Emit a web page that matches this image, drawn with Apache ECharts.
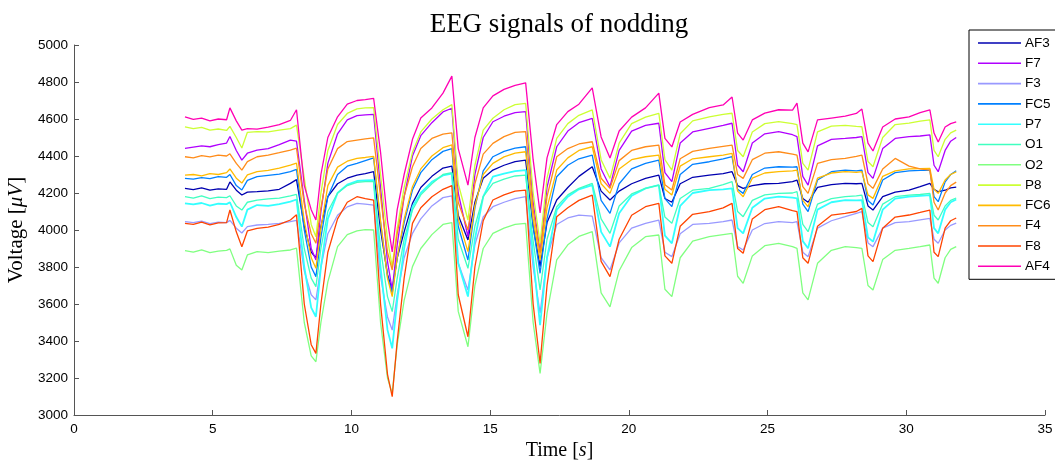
<!DOCTYPE html>
<html>
<head>
<meta charset="utf-8">
<script src="https://cdn.jsdelivr.net/npm/echarts@6/dist/echarts.min.js"></script>
<style>
html,body{margin:0;padding:0;background:#fff;}
#c{width:1055px;height:462px;}
</style>
</head>
<body>
<div id="c"></div>
<script>
// time stamps (s) shared by all channels
const time = [4.0,4.3,4.6,4.9,5.2,5.5,5.62,5.85,6.05,6.25,6.6,7.0,7.4,7.8,8.02,8.3,8.55,8.72,8.9,9.15,9.5,9.85,10.2,10.5,10.8,11.05,11.3,11.47,11.65,11.9,12.2,12.5,12.9,13.3,13.62,13.85,14.2,14.45,14.75,15.1,15.5,15.9,16.28,16.55,16.8,17.05,17.4,17.8,18.2,18.68,19.0,19.32,19.65,20.1,20.6,21.08,21.3,21.55,21.85,22.3,22.9,23.4,23.72,23.92,24.12,24.45,24.9,25.4,25.9,26.06,26.27,26.46,26.8,27.3,27.8,28.2,28.4,28.62,28.8,29.15,29.6,30.1,30.5,30.85,31.0,31.15,31.4,31.6,31.8];

const AF3 = [4225,4218,4228,4215,4222,4220,4260,4215,4189,4205,4207,4212,4220,4252,4272,4020,3880,3849,4020,4180,4250,4280,4297,4305,4315,4000,3760,3676,3850,3990,4144,4230,4290,4335,4345,4080,3946,4150,4280,4324,4350,4370,4378,4020,3802,4040,4162,4230,4290,4342,4210,4162,4210,4250,4279,4297,4170,4150,4250,4285,4297,4305,4315,4240,4225,4240,4250,4252,4262,4270,4170,4150,4230,4245,4252,4250,4252,4130,4108,4180,4205,4216,4235,4252,4220,4207,4215,4228,4232];
const F7 = [4441,4448,4455,4450,4462,4470,4505,4430,4378,4415,4432,4440,4462,4486,4480,4160,3900,3838,4100,4360,4520,4595,4618,4622,4625,4230,3830,3676,3920,4180,4400,4510,4580,4638,4658,4200,3964,4300,4500,4585,4615,4635,4640,4150,3880,4230,4450,4535,4580,4604,4330,4234,4430,4535,4565,4577,4310,4261,4470,4530,4549,4565,4577,4350,4315,4470,4520,4532,4515,4505,4290,4243,4455,4490,4495,4500,4505,4310,4279,4440,4495,4505,4508,4514,4350,4315,4430,4480,4500];
const F3 = [4045,4040,4048,4035,4042,4040,4052,4010,3984,4018,4027,4030,4036,4045,4052,3780,3650,3622,3800,3980,4080,4125,4144,4140,4135,3750,3530,3459,3650,3850,3982,4060,4130,4175,4185,3820,3676,3920,4070,4126,4150,4170,4180,3800,3550,3850,4030,4065,4080,4075,3850,3784,3930,4010,4036,4054,3880,3856,3980,4030,4036,4045,4054,3910,3892,4000,4035,4045,4040,4045,3880,3856,4010,4050,4072,4090,4099,3930,3910,4010,4040,4045,4055,4063,3950,3928,4000,4025,4037];
const FC5 = [4279,4275,4283,4278,4288,4285,4300,4240,4216,4268,4288,4295,4302,4315,4328,4000,3800,3748,3960,4180,4300,4345,4360,4375,4390,4040,3750,3658,3850,4040,4216,4310,4380,4425,4440,4020,3838,4120,4320,4396,4425,4442,4450,4020,3766,4060,4288,4350,4385,4405,4160,4090,4250,4330,4360,4378,4170,4126,4300,4355,4369,4385,4396,4220,4198,4300,4335,4342,4340,4342,4140,4099,4270,4315,4324,4320,4324,4160,4135,4270,4310,4320,4322,4324,4180,4153,4260,4300,4320];
const P7 = [4144,4138,4146,4132,4142,4140,4150,4070,4018,4110,4135,4130,4140,4153,4165,3800,3580,3531,3800,4060,4200,4245,4265,4268,4270,3800,3460,3360,3620,3900,4126,4200,4260,4295,4305,3820,3640,3950,4180,4288,4305,4318,4324,3850,3486,3850,4108,4180,4220,4243,3990,3910,4090,4185,4225,4243,3970,3928,4130,4200,4216,4220,4225,4010,3982,4120,4170,4180,4175,4171,3940,3901,4110,4150,4162,4160,4162,3960,3937,4110,4170,4180,4185,4189,4010,3982,4110,4150,4165];
const O1 = [4180,4172,4185,4170,4178,4175,4185,4130,4108,4150,4162,4168,4172,4184,4192,3900,3740,3694,3900,4100,4200,4240,4258,4262,4261,3900,3640,3559,3740,3950,4108,4190,4250,4300,4310,3950,3793,4020,4180,4252,4275,4292,4297,3940,3676,3950,4126,4190,4225,4252,4060,3982,4130,4195,4225,4243,4070,4036,4170,4215,4225,4245,4261,4100,4072,4160,4190,4198,4200,4207,4030,3991,4140,4170,4180,4185,4189,4040,4018,4140,4180,4189,4192,4198,4080,4054,4130,4160,4173];
const O2 = [3888,3880,3892,3878,3886,3890,3898,3810,3784,3865,3883,3878,3886,3892,3902,3500,3320,3288,3500,3720,3910,3975,3995,4002,4000,3500,3200,3117,3380,3620,3802,3900,3975,4030,4040,3560,3369,3700,3900,3982,4010,4030,4036,3500,3225,3550,3838,3920,3965,3991,3660,3585,3780,3905,3964,3973,3680,3640,3850,3940,3964,3975,3982,3750,3712,3860,3915,3928,3910,3901,3660,3622,3820,3890,3910,3905,3901,3700,3676,3840,3890,3901,3910,3919,3740,3712,3850,3895,3910];
const P8 = [4558,4548,4555,4540,4546,4538,4560,4500,4443,4528,4532,4530,4540,4548,4567,4280,4030,3964,4200,4430,4570,4630,4655,4660,4662,4300,3950,3802,4010,4230,4420,4530,4600,4650,4678,4250,4054,4350,4540,4604,4650,4678,4685,4200,3928,4280,4495,4575,4620,4649,4380,4279,4470,4575,4610,4631,4380,4324,4520,4590,4612,4625,4631,4430,4396,4530,4575,4586,4575,4570,4360,4324,4530,4562,4565,4560,4558,4370,4342,4500,4570,4578,4588,4595,4430,4396,4490,4525,4540];
const FC6 = [4297,4300,4292,4305,4300,4310,4330,4280,4254,4298,4315,4322,4335,4351,4362,4050,3850,3793,4010,4240,4340,4372,4387,4392,4398,4050,3740,3640,3850,4060,4234,4330,4400,4445,4460,4060,3883,4130,4300,4360,4395,4415,4423,4060,3838,4120,4324,4390,4430,4450,4250,4198,4330,4380,4396,4405,4220,4189,4345,4385,4396,4405,4414,4210,4180,4280,4308,4315,4320,4324,4160,4126,4280,4308,4315,4312,4315,4190,4171,4290,4320,4330,4332,4333,4220,4198,4270,4300,4314];
const F4 = [4396,4390,4402,4395,4405,4400,4412,4360,4324,4370,4396,4405,4418,4432,4442,4140,3980,3928,4120,4330,4440,4478,4486,4492,4498,4180,3880,3784,3980,4180,4342,4440,4495,4518,4525,4150,4000,4250,4410,4468,4505,4528,4532,4110,3874,4180,4396,4440,4465,4477,4280,4225,4375,4430,4450,4459,4245,4216,4385,4425,4441,4452,4459,4300,4279,4380,4415,4423,4410,4405,4235,4198,4360,4380,4387,4398,4405,4250,4225,4330,4387,4345,4330,4324,4150,4108,4200,4240,4259];
const F8 = [4036,4030,4042,4028,4038,4040,4108,3990,3909,3995,4009,4015,4030,4054,4082,3600,3380,3333,3600,3880,4060,4150,4180,4170,4162,3600,3220,3099,3400,3740,4036,4120,4180,4220,4240,3650,3423,3800,4050,4162,4190,4210,4216,3600,3279,3700,4072,4120,4160,4189,3830,3748,3950,4080,4126,4144,3860,3820,4020,4085,4099,4120,4144,3900,3874,4060,4110,4126,4105,4099,3850,3820,4020,4080,4090,4100,4117,3860,3829,4010,4070,4081,4095,4108,3880,3856,4010,4050,4065];
const AF4 = [4612,4598,4605,4590,4600,4596,4660,4590,4540,4548,4545,4556,4570,4592,4650,4240,4110,4054,4300,4500,4612,4680,4700,4705,4712,4420,4050,3882,4110,4300,4490,4605,4660,4740,4832,4440,4243,4500,4660,4725,4760,4782,4795,4380,4092,4390,4570,4640,4680,4768,4503,4389,4535,4610,4660,4740,4495,4449,4584,4625,4662,4676,4719,4524,4486,4595,4632,4650,4648,4686,4470,4422,4595,4605,4615,4630,4654,4470,4427,4557,4600,4612,4634,4649,4524,4476,4557,4575,4584];

const channelNames = ['AF3','F7','F3','FC5','P7','O1','O2','P8','FC6','F4','F8','AF4'];
const channelValues = [AF3,F7,F3,FC5,P7,O1,O2,P8,FC6,F4,F8,AF4];
const channelColors = ['#0000b0','#b000ff','#9999ff','#0080ff','#33ffff','#40ffc0','#80ff80','#ccff33','#ffbb00','#ff8c1a','#ff4400','#ff00b4'];
const xTicks = [0,5,10,15,20,25,30,35];
const yTicks = [3000,3200,3400,3600,3800,4000,4200,4400,4600,4800,5000];

const chart = echarts.init(document.getElementById('c'), null, {renderer:'canvas'});
const series = channelNames.map((n,i)=>({
  name:n, type:'line', symbol:'none', showSymbol:false, smooth:false, animation:false,
  data: time.map((t,k)=>[t, channelValues[i][k]]),
  lineStyle:{color:channelColors[i], width: n==='P7'?1.8:1.3},
  itemStyle:{color:channelColors[i]},
  z: 2+i
}));
const serif = '"Liberation Serif", "Times New Roman", serif';
const sans = '"Liberation Sans", Arial, sans-serif';
chart.setOption({
  animation:false,
  backgroundColor:'#fff',
  grid:{left:74, right:10, top:45, bottom:47, containLabel:false, outerBoundsMode:'none'},
  graphic:[{type:'text', x:559, y:25, z:100, style:{text:'EEG signals of nodding', font:'27px '+serif, fill:'#000', textAlign:'center', textVerticalAlign:'middle'}}],
  legend:{
    orient:'vertical', left:969, top:30,
    data:channelNames.map((n,i)=>({name:n, icon:'rect', itemStyle:{color:channelColors[i], borderWidth:0}})),
    itemWidth:43, itemHeight: 1.6, itemGap:6.3,
    padding:[6,40,6,9],
    borderColor:'#000', borderWidth:1, backgroundColor:'#fff',
    textStyle:{fontFamily:sans, fontSize:13.5, color:'#000', lineHeight:14, padding:[0,0,0,-1]},
    selectedMode:false, z:50
  },
  xAxis:{
    type:'value', min:xTicks[0], max:xTicks[xTicks.length-1], interval:5,
    name:'Time [{i|s}]', nameLocation:'middle', nameGap:26,
    nameTextStyle:{fontFamily:serif, fontSize:20, color:'#000', rich:{i:{fontFamily:serif, fontStyle:'italic', fontSize:20}}},
    axisLine:{lineStyle:{color:'#555', width:1}},
    axisTick:{inside:true, length:5, lineStyle:{color:'#555'}},
    axisLabel:{fontFamily:sans, fontSize:13.5, color:'#000', margin:7, formatter:v=>String(v)},
    splitLine:{show:false}
  },
  yAxis:{
    type:'value', min:yTicks[0], max:yTicks[yTicks.length-1], interval:200,
    name:'Voltage [{i|μV}]', nameLocation:'middle', nameGap:47,
    nameTextStyle:{fontFamily:serif, fontSize:21, color:'#000', rich:{i:{fontFamily:serif, fontStyle:'italic', fontSize:21}}},
    axisLine:{show:true, lineStyle:{color:'#555', width:1}},
    axisTick:{show:true, inside:true, length:5, lineStyle:{color:'#555'}},
    axisLabel:{fontFamily:sans, fontSize:13.5, color:'#000', margin:6, formatter:v=>String(v)},
    splitLine:{show:false}
  },
  series: series
});
</script>
</body>
</html>
